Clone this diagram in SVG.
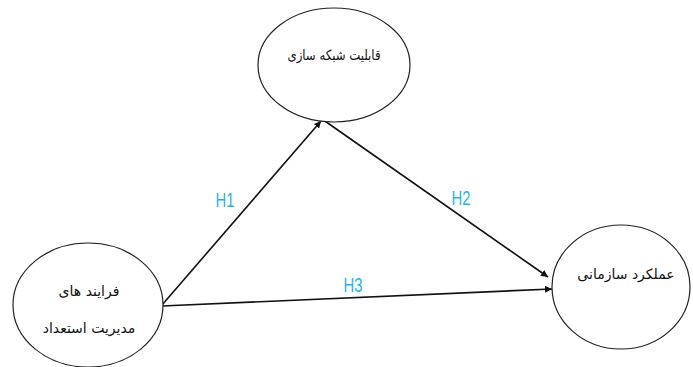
<svg xmlns="http://www.w3.org/2000/svg" width="693" height="367" viewBox="0 0 693 367">
<style>
.node ellipse{fill:#fff;stroke:#222;stroke-width:1.2}
.fa{font-family:"DejaVu Sans",sans-serif;font-size:14px;fill:#111;text-anchor:middle}
.lbl{font-family:"Liberation Sans",sans-serif;font-size:21px;fill:#1fb4f0;text-anchor:middle}
.edge{stroke:#111;stroke-width:1.6;fill:none;marker-end:url(#ah)}
</style>
<defs>
<marker id="ah" viewBox="0 0 10 10" refX="10" refY="5" markerWidth="7" markerHeight="7" orient="auto" markerUnits="userSpaceOnUse">
<path d="M0,0 L10,5 L0,10 z" fill="#111"/>
</marker>
</defs>
<rect width="693" height="367" fill="#fff"/>
<g id="connectors">
<line class="edge" x1="162" y1="305" x2="321" y2="121"/>
<line class="edge" x1="322" y1="119" x2="548" y2="277"/>
<line class="edge" x1="162" y1="306" x2="552" y2="289"/>
<text class="lbl" x="225" y="207" textLength="19" lengthAdjust="spacingAndGlyphs">H1</text>
<text class="lbl" x="461" y="205" textLength="19" lengthAdjust="spacingAndGlyphs">H2</text>
<text class="lbl" x="353" y="292" textLength="19" lengthAdjust="spacingAndGlyphs">H3</text>
</g>
<g id="n-network" class="node">
<ellipse cx="334" cy="65" rx="76" ry="57"/>
<text class="fa" x="334" y="60" direction="rtl" textLength="93" lengthAdjust="spacingAndGlyphs">قابلیت شبکه سازی</text>
</g>
<g id="n-talent" class="node">
<ellipse cx="88" cy="305" rx="75" ry="62"/>
<text class="fa" x="89" y="296" direction="rtl">فرایند های</text>
<text class="fa" x="89" y="333" direction="rtl">مدیریت استعداد</text>
</g>
<g id="n-performance" class="node">
<ellipse cx="621" cy="287" rx="69" ry="62"/>
<text class="fa" x="626" y="279" direction="rtl">عملکرد سازمانی</text>
</g>
</svg>
